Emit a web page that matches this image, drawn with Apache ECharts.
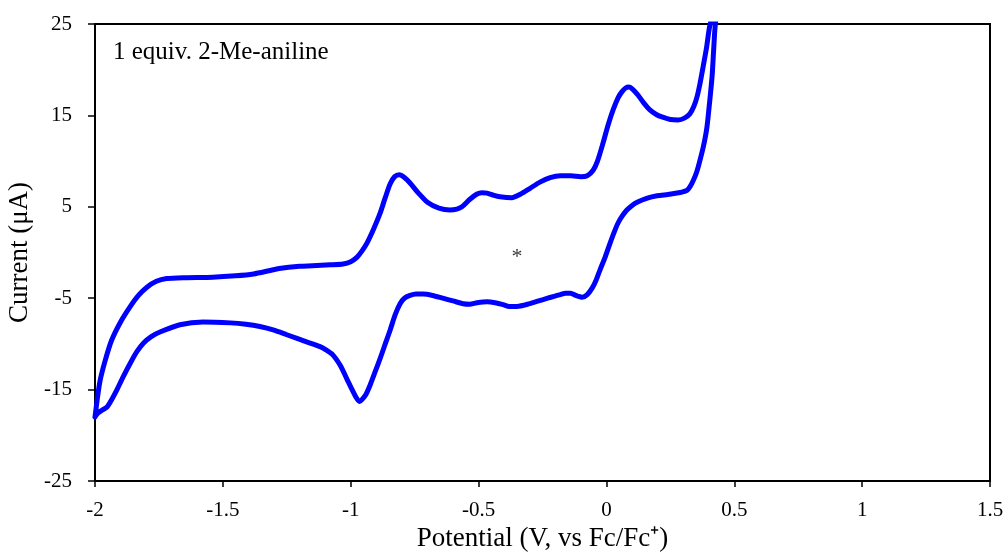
<!DOCTYPE html>
<html>
<head>
<meta charset="utf-8">
<script src="https://cdn.jsdelivr.net/npm/echarts@6/dist/echarts.min.js"></script>
<style>
  html, body { margin: 0; padding: 0; background: #fff; }
  #chart { width: 1006px; height: 559px; }
</style>
</head>
<body>
<div id="chart"></div>
<script>
// Cyclic voltammogram, 1 equiv. 2-Me-aniline
// Anodic sweep: -2.0 V up to the switching potential
const forwardPotential = [
  -2.0, -1.99, -1.98, -1.96, -1.935, -1.90, -1.863, -1.83, -1.797, -1.76,
  -1.72, -1.65, -1.54, -1.45, -1.38, -1.32, -1.28, -1.2, -1.15, -1.08,
  -1.03, -1.0, -0.975, -0.955, -0.936, -0.91, -0.885, -0.865, -0.846, -0.828,
  -0.81, -0.79, -0.768, -0.735, -0.70, -0.655, -0.612, -0.585, -0.565, -0.535,
  -0.506, -0.487, -0.467, -0.44, -0.416, -0.37, -0.335, -0.30, -0.26, -0.22,
  -0.18, -0.14, -0.10, -0.075, -0.052, -0.035, -0.013, 0.006, 0.026, 0.045,
  0.061, 0.075, 0.088, 0.105, 0.124, 0.145, 0.17, 0.195, 0.22, 0.25,
  0.28, 0.305, 0.327, 0.342, 0.354, 0.366, 0.378, 0.392, 0.405, 0.44
];
const forwardCurrent = [
  -18.0, -15.8, -14.0, -11.8, -9.6, -7.6, -5.95, -4.7, -3.8, -3.15,
  -2.85, -2.75, -2.7, -2.55, -2.35, -2.0, -1.75, -1.5, -1.45, -1.35,
  -1.25, -1.0, -0.5, 0.2, 1.05, 2.6, 4.3, 6.0, 7.5, 8.3,
  8.5, 8.2, 7.6, 6.5, 5.5, 4.85, 4.65, 4.75, 5.0, 5.8,
  6.4, 6.55, 6.5, 6.25, 6.1, 6.0, 6.4, 7.0, 7.7, 8.2,
  8.4, 8.4, 8.3, 8.4, 9.0, 10.0, 12.0, 13.9, 15.6, 16.9,
  17.6, 18.0, 18.1, 17.8, 17.2, 16.4, 15.6, 15.1, 14.8, 14.55,
  14.5, 14.7, 15.2, 16.0, 17.0, 18.5, 20.3, 22.5, 24.9, 28.0
];
// Cathodic sweep: back from the switching potential to -2.0 V
const reversePotential = [
  0.425, 0.419, 0.413, 0.403, 0.393, 0.38, 0.366, 0.353, 0.34, 0.327,
  0.315, 0.295, 0.276, 0.24, 0.198, 0.16, 0.12, 0.098, 0.08, 0.062,
  0.045, 0.03, 0.014, -0.005, -0.025, -0.04, -0.056, -0.075, -0.095, -0.12,
  -0.14, -0.16, -0.18, -0.205, -0.23, -0.265, -0.30, -0.35, -0.38, -0.404,
  -0.435, -0.467, -0.506, -0.535, -0.56, -0.6, -0.64, -0.68, -0.717, -0.745,
  -0.768, -0.79, -0.807, -0.826, -0.846, -0.865, -0.885, -0.905, -0.924, -0.94,
  -0.956, -0.966, -0.98, -1.0, -1.014, -1.04, -1.07, -1.10, -1.12, -1.17,
  -1.25, -1.30, -1.355, -1.41, -1.47, -1.578, -1.668, -1.746, -1.78, -1.81,
  -1.835, -1.86, -1.89, -1.914, -1.935, -1.953, -1.975, -1.99, -2.0
];
const reverseCurrent = [
  24.7, 22.0, 19.2, 16.3, 13.7, 11.7, 10.1, 8.8, 7.9, 7.2,
  6.8, 6.6, 6.5, 6.35, 6.2, 5.95, 5.5, 5.1, 4.65, 4.0,
  3.2, 2.2, 1.0, -0.5, -1.9, -3.0, -3.9, -4.6, -4.9, -4.7,
  -4.45, -4.45, -4.6, -4.8, -5.0, -5.3, -5.6, -5.9, -5.9, -5.7,
  -5.5, -5.4, -5.5, -5.65, -5.6, -5.3, -5.0, -4.7, -4.55, -4.55,
  -4.7, -5.0, -5.6, -6.8, -8.5, -10.0, -11.6, -13.1, -14.5, -15.5,
  -16.1, -16.3, -15.8, -14.7, -13.9, -12.4, -11.2, -10.6, -10.3, -9.8,
  -9.0, -8.5, -8.1, -7.85, -7.7, -7.6, -7.9, -8.7, -9.2, -9.9,
  -10.8, -12.0, -13.6, -15.0, -16.1, -16.9, -17.3, -17.6, -18.0
];

// Axis extents and tick spacing
const potentialRange = [-2, 1.5];
const potentialStep = 0.5;
const currentRange = [-25, 25];
const currentStep = 10;

// Text annotations
const sampleLabel = '1 equiv. 2-Me-aniline';
const markerPoint = [-0.35, -0.5];
const markerText = '*';

const loop = forwardPotential.map((v, i) => [v, forwardCurrent[i]])
  .concat(reversePotential.map((v, i) => [v, reverseCurrent[i]]));

const serif = '"Liberation Serif", "Times New Roman", serif';

const chart = echarts.init(document.getElementById('chart'), null, { renderer: 'canvas' });
chart.setOption({
  animation: false,
  backgroundColor: '#ffffff',
  grid: {
    left: 95, right: 16, top: 24, bottom: 78,
    outerBoundsMode: 'none',
    containLabel: false,
    show: true, borderColor: '#000', borderWidth: 2, backgroundColor: 'transparent'
  },
  xAxis: {
    type: 'value',
    min: potentialRange[0], max: potentialRange[1], interval: potentialStep,
    name: 'Potential (V, vs Fc/Fc\u207A)',
    nameLocation: 'middle', nameGap: 41,
    nameTextStyle: { fontFamily: serif, fontSize: 27, color: '#000' },
    axisLine: { onZero: false, lineStyle: { color: '#000', width: 2 } },
    axisTick: { show: true, inside: false, length: 6, lineStyle: { color: '#000', width: 1.5 } },
    axisLabel: { margin: 19, fontFamily: serif, fontSize: 21, color: '#000' },
    splitLine: { show: false }
  },
  yAxis: {
    type: 'value',
    min: currentRange[0], max: currentRange[1], interval: currentStep,
    name: 'Current (\u03BCA)',
    nameLocation: 'middle', nameGap: 59,
    nameTextStyle: { fontFamily: serif, fontSize: 27, color: '#000' },
    axisLine: { onZero: false, lineStyle: { color: '#000', width: 2 } },
    axisTick: { show: true, inside: false, length: 7, lineStyle: { color: '#000', width: 1.5 } },
    axisLabel: { margin: 23, fontFamily: serif, fontSize: 21, color: '#000' },
    splitLine: { show: false }
  },
  series: [
    {
      type: 'line',
      data: loop,
      showSymbol: false,
      symbol: 'none',
      smooth: 0.25,
      clip: true,
      lineStyle: { color: '#0000ff', width: 5, cap: 'round', join: 'round' }
    },
    {
      type: 'scatter',
      data: [markerPoint],
      symbolSize: 0,
      silent: true,
      label: {
        show: true, position: 'inside', formatter: markerText,
        fontFamily: serif, fontSize: 22, color: '#000'
      }
    }
  ],
  graphic: [
    {
      type: 'text', left: 113, top: 40, silent: true,
      style: { text: sampleLabel, fontFamily: serif, fontSize: 25, fill: '#000' }
    }
  ]
});
</script>
</body>
</html>
